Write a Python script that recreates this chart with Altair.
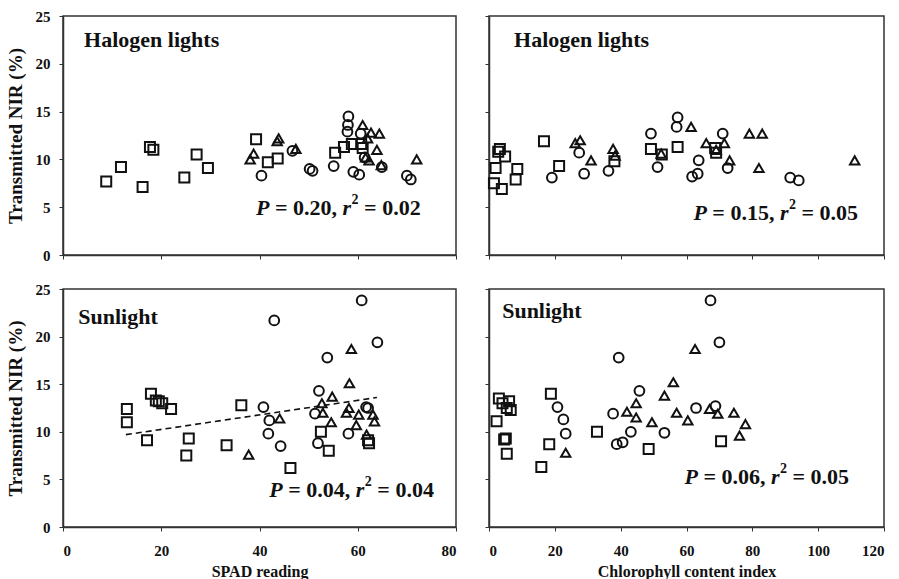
import altair as alt
import pandas as pd

FONT = "'Liberation Serif', 'Times New Roman', Times, serif"

# ---------------- data ----------------
# Panel A: SPAD reading vs transmitted NIR, halogen lights
a_sq_x = [8.8, 11.8, 16.2, 17.7, 18.4, 24.7, 27.2, 29.5, 39.3, 41.7, 43.7, 55.4, 57.2, 58.8, 60.7, 61.0]
a_sq_y = [7.7, 9.2, 7.1, 11.3, 11.0, 8.1, 10.5, 9.1, 12.1, 9.7, 10.1, 10.7, 11.3, 11.6, 11.6, 11.2]
a_ci_x = [40.4, 46.7, 50.2, 50.8, 55.1, 58.1, 58.0, 57.9, 59.1, 60.3, 60.6, 61.4, 64.9, 70.0, 70.8]
a_ci_y = [8.3, 10.9, 9.0, 8.8, 9.3, 14.5, 13.6, 12.9, 8.7, 8.4, 12.7, 10.2, 9.2, 8.3, 7.9]
a_tr_x = [38.1, 38.8, 43.6, 43.9, 47.4, 61.0, 62.7, 64.4, 62.0, 63.9, 61.6, 62.3, 64.8, 72.0]
a_tr_y = [10.0, 10.6, 11.9, 12.2, 11.1, 13.6, 12.8, 12.7, 12.2, 11.0, 10.2, 9.9, 9.4, 10.0]

# Panel B: chlorophyll content index vs transmitted NIR, halogen lights
b_sq_x = [3.3, 2.8, 4.9, 2.0, 1.5, 3.9, 8.6, 8.1, 16.7, 21.3, 38.1, 49.2, 52.5, 57.3, 68.7, 69.0]
b_sq_y = [11.1, 10.8, 10.3, 9.1, 7.5, 6.9, 9.0, 7.9, 11.9, 9.3, 9.8, 11.1, 10.5, 11.3, 11.2, 10.7]
b_ci_x = [19.1, 27.4, 28.9, 36.3, 49.2, 51.2, 57.3, 57.0, 61.7, 63.4, 63.7, 71.0, 72.5, 91.5, 94.1]
b_ci_y = [8.1, 10.7, 8.5, 8.8, 12.7, 9.2, 14.4, 13.4, 8.2, 8.5, 9.9, 12.7, 9.1, 8.1, 7.8]
b_tr_x = [26.2, 27.7, 31.0, 37.7, 38.3, 52.3, 61.4, 66.0, 69.0, 71.5, 73.1, 79.1, 83.0, 82.0, 111.1]
b_tr_y = [11.7, 12.0, 9.9, 11.1, 10.4, 10.6, 13.4, 11.7, 11.0, 11.7, 9.9, 12.7, 12.7, 9.1, 9.9]

# Panel C: SPAD reading vs transmitted NIR, sunlight
c_sq_x = [13.0, 13.0, 17.1, 17.9, 18.9, 19.5, 20.2, 22.0, 25.1, 25.6, 33.3, 36.3, 46.3, 52.5, 54.1, 62.3, 62.1]
c_sq_y = [12.4, 11.0, 9.1, 14.0, 13.3, 13.2, 13.0, 12.4, 7.5, 9.3, 8.6, 12.8, 6.2, 10.0, 8.0, 8.8, 9.1]
c_ci_x = [40.8, 42.0, 41.8, 43.0, 44.3, 51.3, 52.1, 51.9, 53.8, 58.1, 60.8, 61.7, 62.1, 64.0]
c_ci_y = [12.6, 11.2, 9.8, 21.7, 8.5, 11.9, 14.3, 8.8, 17.8, 9.8, 23.8, 12.6, 12.5, 19.4]
c_tr_x = [37.8, 44.1, 52.7, 52.9, 54.8, 54.6, 58.7, 58.3, 58.2, 57.7, 60.2, 59.7, 63.1, 63.4, 61.8]
c_tr_y = [7.6, 11.4, 13.0, 12.0, 13.7, 11.0, 18.7, 15.1, 12.5, 12.0, 11.8, 10.7, 11.8, 11.1, 9.7]
c_fit_x = [12.8, 63.9]
c_fit_y = [9.7, 13.6]

# Panel D: chlorophyll content index vs transmitted NIR, sunlight
d_sq_x = [3.0, 4.1, 6.1, 5.4, 6.6, 2.3, 5.1, 4.6, 5.4, 18.8, 18.3, 15.9, 32.8, 48.5, 70.5]
d_sq_y = [13.5, 13.0, 13.2, 12.5, 12.3, 11.1, 9.3, 9.2, 7.7, 14.0, 8.7, 6.3, 10.0, 8.2, 9.0]
d_ci_x = [20.8, 22.6, 23.3, 37.7, 39.4, 38.8, 40.6, 43.1, 45.7, 53.3, 62.9, 67.3, 68.8, 70.0]
d_ci_y = [12.6, 11.3, 9.8, 11.9, 17.8, 8.7, 8.9, 10.0, 14.3, 9.9, 12.5, 23.8, 12.7, 19.4]
d_tr_x = [23.3, 41.9, 44.7, 44.7, 49.5, 53.3, 56.0, 57.0, 60.4, 62.6, 67.0, 69.5, 74.4, 76.1, 77.9]
d_tr_y = [7.8, 12.1, 13.0, 11.5, 11.0, 13.8, 15.2, 12.0, 11.2, 18.7, 12.4, 11.9, 12.0, 9.6, 10.8]

y_ticks = [0, 5, 10, 15, 20, 25]
spad_ticks = [0, 20, 40, 60, 80]
cci_ticks = [0, 20, 40, 60, 80, 100, 120]

y_title = "Transmitted NIR (%)"
spad_title = "SPAD reading"
cci_title = "Chlorophyll content index"
light_labels = ["Halogen lights", "Halogen lights", "Sunlight", "Sunlight"]
p_values = ["0.20", "0.15", "0.04", "0.06"]
r2_values = ["0.02", "0.05", "0.04", "0.05"]

# ---------------- helpers ----------------
INK = "#111111"
FRAME = "#333333"
FS = 22  # stats font size


def pts(xs, ys):
    return pd.DataFrame({"x": xs, "y": ys})


def panel(series, xmax, xticks, xtitle, show_xlab, show_ylab, label, label_pos,
          pval, r2, stat_pos, fit=None, w=393, h=239):
    xs = alt.Scale(domain=[0, xmax], nice=False, zero=True)
    ys = alt.Scale(domain=[0, 25], nice=False)
    xaxis = alt.Axis(values=xticks, labels=show_xlab, title=xtitle if show_xlab else None,
                     grid=False, tickSize=4, tickColor=FRAME, domainColor=FRAME, domainWidth=1.5,
                     labelFont=FONT, labelFontSize=15, labelFontWeight="bold", labelColor=INK,
                     labelPadding=12, titleFont=FONT, titleFontSize=16, titleFontWeight="bold",
                     titleColor=INK, titlePadding=5)
    yaxis = alt.Axis(values=y_ticks, labels=show_ylab, title=y_title if show_ylab else None,
                     grid=False, tickSize=4, tickColor=FRAME, domainColor=FRAME, domainWidth=1.5,
                     labelFont=FONT, labelFontSize=15, labelFontWeight="bold", labelColor=INK,
                     labelPadding=9, titleFont=FONT, titleFontSize=19, titleFontWeight="bold",
                     titleColor=INK, titlePadding=10)
    X = lambda: alt.X("x:Q", scale=xs, axis=xaxis)
    Y = lambda: alt.Y("y:Q", scale=ys, axis=yaxis)

    shapes = [("square", 100), ("circle", 95), ("triangle-up", 88)]
    layers = []
    for (shape, size), (xv, yv) in zip(shapes, series):
        layers.append(
            alt.Chart(pts(xv, yv)).mark_point(shape=shape, size=size, filled=False,
                                              stroke=INK, strokeWidth=2, opacity=1)
            .encode(x=X(), y=Y())
        )
    if fit is not None:
        layers.append(
            alt.Chart(pts(*fit)).mark_line(color=INK, strokeWidth=1.6, strokeDash=[6, 4])
            .encode(x=X(), y=Y())
        )
    # panel label
    layers.append(
        alt.Chart(pd.DataFrame({"x": [label_pos[0]], "y": [label_pos[1]], "t": [label]}))
        .mark_text(align="left", baseline="middle", font=FONT, fontSize=22,
                   fontWeight="bold", color=INK)
        .encode(x=X(), y=Y(), text="t:N")
    )
    # statistics text, composed of pieces (italic P and r, superscript 2)
    u = FS / 1000.0
    sp = 250 * u
    w_P = 611 * u
    w_eq = 570 * u
    w_num = (500 + 250 + 500 + 500) * u
    w_comma = 250 * u
    w_r = 389 * u
    sup = 14
    w_sup = 500 * sup / 1000.0
    x0 = 0.0
    pieces = []
    pieces.append(("P", x0, "italic", FS, 0)); x0 += w_P + sp
    pieces.append(("=", x0, "normal", FS, 0)); x0 += w_eq + sp
    pieces.append((f"{pval},", x0, "normal", FS, 0)); x0 += w_num + w_comma + sp
    pieces.append(("r", x0, "italic", FS, 0)); x0 += w_r + 0.5
    pieces.append(("2", x0, "normal", sup, -8)); x0 += w_sup + sp
    pieces.append(("=", x0, "normal", FS, 0)); x0 += w_eq + sp
    pieces.append((r2, x0, "normal", FS, 0))
    sdf = pd.DataFrame({"x": [stat_pos[0]], "y": [stat_pos[1]]})
    for txt, dx, style, size, dy in pieces:
        layers.append(
            alt.Chart(sdf).mark_text(align="left", baseline="middle", font=FONT,
                                     fontSize=size, fontWeight="bold", fontStyle=style,
                                     color=INK, dx=dx, dy=dy, text=txt)
            .encode(x=X(), y=Y())
        )
    return alt.layer(*layers).properties(width=w, height=h)


pa = panel([(a_sq_x, a_sq_y), (a_ci_x, a_ci_y), (a_tr_x, a_tr_y)], 80, spad_ticks, spad_title,
           False, True, light_labels[0], (4.3, 22.5), p_values[0], r2_values[0], (39.3, 4.9))
pb = panel([(b_sq_x, b_sq_y), (b_ci_x, b_ci_y), (b_tr_x, b_tr_y)], 120, cci_ticks, cci_title,
           False, False, light_labels[1], (7.6, 22.5), p_values[1], r2_values[1], (62.1, 4.4), w=395)
pc = panel([(c_sq_x, c_sq_y), (c_ci_x, c_ci_y), (c_tr_x, c_tr_y)], 80, spad_ticks, spad_title,
           True, True, light_labels[2], (3.1, 22.1), p_values[2], r2_values[2], (42.0, 3.9),
           fit=(c_fit_x, c_fit_y), h=238)
pd_ = panel([(d_sq_x, d_sq_y), (d_ci_x, d_ci_y), (d_tr_x, d_tr_y)], 120, cci_ticks, cci_title,
            True, False, light_labels[3], (4.0, 22.7), p_values[3], r2_values[3], (59.4, 5.25),
            w=395, h=238)

chart = alt.vconcat(
    alt.hconcat(pa, pb, spacing=25),
    alt.hconcat(pc, pd_, spacing=25),
    spacing=17,
).properties(
    padding={"left": 5, "top": 8, "right": 5, "bottom": 5},
    background="white",
).configure_view(
    stroke=FRAME, strokeWidth=1.5
)

chart.save("out.html", embed_options={"renderer": "svg", "actions": False})
